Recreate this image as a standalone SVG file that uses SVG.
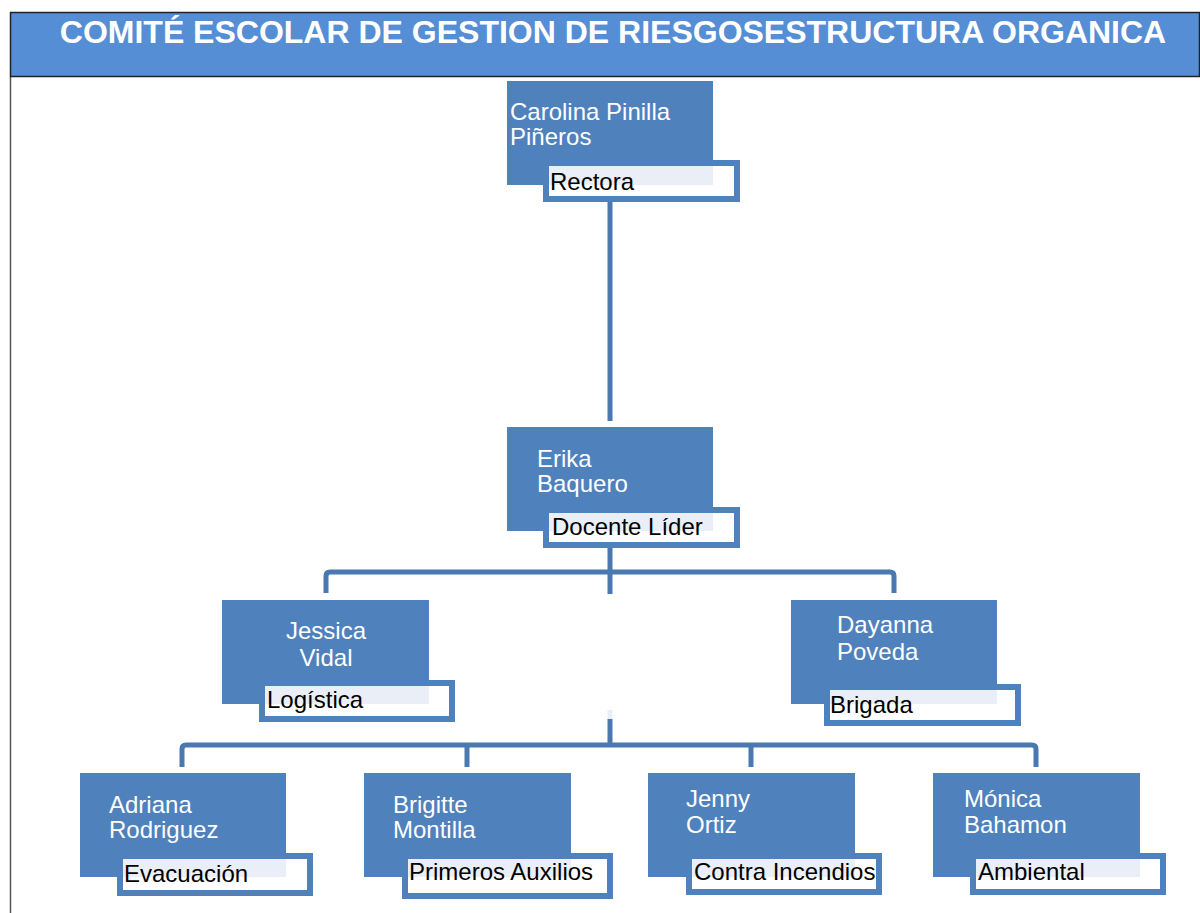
<svg xmlns="http://www.w3.org/2000/svg" width="1200" height="913" viewBox="0 0 1200 913">
<style>
.node{fill:#4F81BD}
.lab{fill:#FFFFFF;stroke:#4F81BD;stroke-width:6}
.ov{fill:#E9EEF7}
.nt{font-family:"Liberation Sans",Arial,sans-serif;font-size:24px;fill:#FFFFFF}
.lt{font-family:"Liberation Sans",Arial,sans-serif;font-size:24px;fill:#000000}
.con{fill:none;stroke:#4A78B0;stroke-width:5}
</style>
<rect width="1200" height="913" fill="#FFFFFF"/>
<g id="title">
<line x1="10.5" y1="77" x2="10.5" y2="913" stroke="#555555" stroke-width="1.5"/>
<rect x="10.5" y="12.5" width="1189" height="64" fill="#558ED5" stroke="#222222" stroke-width="1.5"/>
<text x="613" y="43" text-anchor="middle" font-family="'Liberation Sans',Arial,sans-serif" font-size="32" font-weight="bold" fill="#FFFFFF">COMITÉ ESCOLAR DE GESTION DE RIESGOSESTRUCTURA ORGANICA</text>
</g>
<g id="connectors">
<path class="con" d="M610 202 V421"/>
<path class="con" d="M610 548 V594"/>
<path class="con" d="M326 593 V576 Q326 572 330 572 H890 Q894 572 894 576 V593"/>
<line x1="610" y1="710" x2="610" y2="719" stroke="#E9EEF6" stroke-width="5"/>
<path class="con" d="M610 719 V745"/>
<path class="con" d="M182 767 V749 Q182 745 186 745 H1032 Q1036 745 1036 749 V767"/>
<path class="con" d="M467 745 V767"/>
<path class="con" d="M751 745 V767"/>
</g>
<g id="n-carolina">
<rect class="node" x="507" y="81" width="206" height="104"/>
<rect class="lab" x="546" y="163" width="191" height="36"/>
<rect class="ov" x="549" y="166" width="164" height="19"/>
<text class="nt" x="510" y="120">Carolina Pinilla</text>
<text class="nt" x="510" y="145">Piñeros</text>
<text class="lt" x="550" y="190">Rectora</text>
</g>
<g id="n-erika">
<rect class="node" x="507" y="427" width="206" height="104"/>
<rect class="lab" x="546" y="510" width="191" height="35"/>
<rect class="ov" x="549" y="513" width="164" height="18"/>
<text class="nt" x="537" y="467">Erika</text>
<text class="nt" x="537" y="492">Baquero</text>
<text class="lt" x="552" y="535">Docente Líder</text>
</g>
<g id="n-jessica">
<rect class="node" x="222" y="600" width="207" height="104"/>
<rect class="lab" x="262" y="683" width="190" height="36"/>
<rect class="ov" x="265" y="686" width="164" height="18"/>
<text class="nt" x="326" y="639" text-anchor="middle">Jessica</text>
<text class="nt" x="326" y="666" text-anchor="middle">Vidal</text>
<text class="lt" x="267" y="708">Logística</text>
</g>
<g id="n-dayanna">
<rect class="node" x="791" y="600" width="206" height="104"/>
<rect class="lab" x="827" y="687" width="191" height="36"/>
<rect class="ov" x="830" y="690" width="167" height="14"/>
<text class="nt" x="837" y="633">Dayanna</text>
<text class="nt" x="837" y="660">Poveda</text>
<text class="lt" x="830" y="713">Brigada</text>
</g>
<g id="n-adriana">
<rect class="node" x="80" y="773" width="206" height="104"/>
<rect class="lab" x="120" y="856" width="190" height="37"/>
<rect class="ov" x="123" y="859" width="163" height="18"/>
<text class="nt" x="109" y="813">Adriana</text>
<text class="nt" x="109" y="838">Rodriguez</text>
<text class="lt" x="124" y="882">Evacuación</text>
</g>
<g id="n-brigitte">
<rect class="node" x="364" y="773" width="207" height="104"/>
<rect class="lab" x="405" y="856" width="205" height="40"/>
<rect class="ov" x="408" y="859" width="163" height="18"/>
<text class="nt" x="393" y="813">Brigitte</text>
<text class="nt" x="393" y="838">Montilla</text>
<text class="lt" x="409" y="880">Primeros Auxilios</text>
</g>
<g id="n-jenny">
<rect class="node" x="648" y="773" width="207" height="104"/>
<rect class="lab" x="689" y="856" width="190" height="36"/>
<rect class="ov" x="692" y="859" width="163" height="18"/>
<text class="nt" x="686" y="807">Jenny</text>
<text class="nt" x="686" y="833">Ortiz</text>
<text class="lt" x="694" y="880">Contra Incendios</text>
</g>
<g id="n-monica">
<rect class="node" x="933" y="773" width="207" height="104"/>
<rect class="lab" x="973" y="856" width="190" height="36"/>
<rect class="ov" x="976" y="859" width="164" height="18"/>
<text class="nt" x="964" y="807">Mónica</text>
<text class="nt" x="964" y="833">Bahamon</text>
<text class="lt" x="978" y="880">Ambiental</text>
</g>
</svg>
